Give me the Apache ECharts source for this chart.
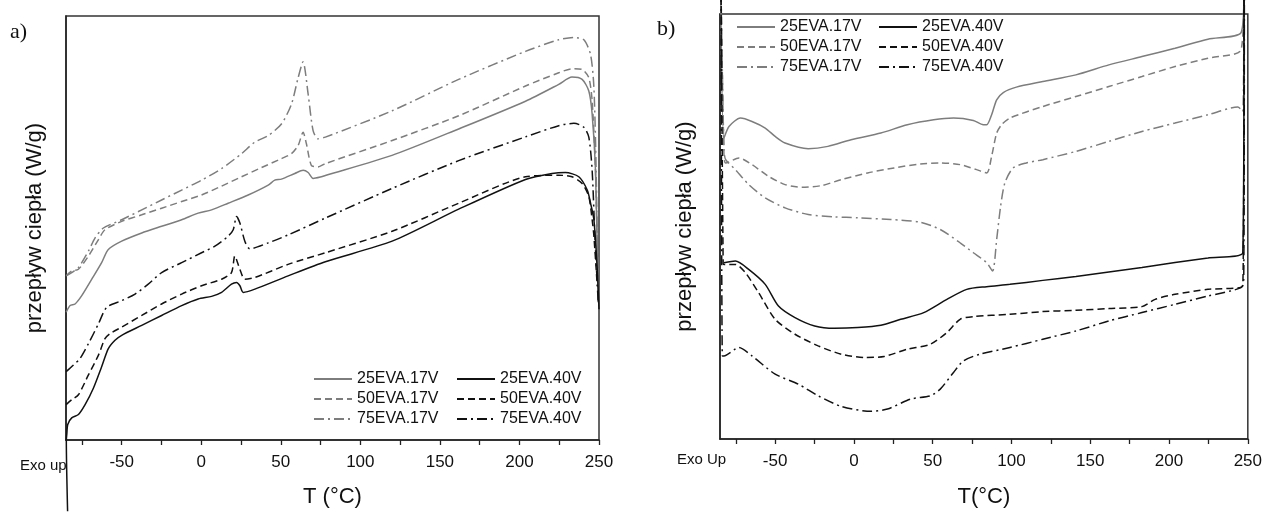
<!DOCTYPE html>
<html>
<head>
<meta charset="utf-8">
<script src="https://cdn.jsdelivr.net/npm/echarts@6/dist/echarts.min.js"></script>
<style>html,body{margin:0;padding:0;background:#fff}#c{width:1265px;height:513px}</style>
</head>
<body>
<div id="c"></div>
<script>
// ---------- data ----------
const names = ['25EVA.17V','50EVA.17V','75EVA.17V','25EVA.40V','50EVA.40V','75EVA.40V'];
const xMajorTicks = [-50,0,50,100,150,200,250];
const xMinorTicks = [-75,-50,-25,0,25,50,75,100,125,150,175,200,225,250];

// panel a) [T (°C), heat flow (arb.)]
const a_25_17V = [[-84.9,129],[-82.4,135.7],[-79.3,137.3],[-75.1,145.7],[-68.8,162.3],[-62.6,179],[-58.4,192.3],[-50,200.7],[-37.4,209],[-24.9,215.7],[-12.3,222.3],[-1.9,229],[6.5,232.3],[16.9,239],[29.5,247.3],[42.1,257.3],[46.2,262.3],[50.4,263.3],[58.8,269],[64,272.3],[67.2,270],[70.3,264],[75.5,265.7],[78,267],[119.9,287.3],[161.8,314],[203.8,342],[224.7,359],[233,366.3],[239.4,364],[243.6,352.3],[245.7,329],[247.8,272],[249.5,139]];
const a_50_17V = [[-84.9,165.7],[-81.4,170.7],[-77.2,172.3],[-70.9,185.7],[-64.6,202.3],[-60.5,212.3],[-50,220.7],[-37.4,227.3],[-24.9,234],[-12.3,240.7],[0.2,247.3],[12.8,256.3],[25.3,265.7],[37.9,275],[50.4,284],[56.7,289],[60.9,297.3],[64,310.7],[66.1,299],[69.2,277.3],[73.4,275.7],[78,279],[120,302.3],[161.8,327.3],[203.8,357.3],[224.7,370.7],[233,374.7],[239.4,374],[243.6,365.7],[245.7,342],[247.8,272],[249.5,145.7]];
const a_75_17V = [[-84.9,165.7],[-81.4,169],[-77.2,174],[-70.9,190.7],[-66.7,204],[-61.5,214],[-50,222.3],[-37.4,232.3],[-24.9,242.3],[-12.3,252.3],[0.2,262.3],[12.8,274],[25.3,289],[33.7,300.7],[42.1,307.3],[50.4,319],[56.7,339],[60.9,365.7],[64,381.7],[67.2,349],[70.3,312.3],[73.4,304],[78,305.7],[120,332.3],[161.8,364],[203.8,392.3],[224.7,404],[234.2,406.3],[240.5,404],[244.7,389],[246.8,355.7],[248.2,272],[249.5,139]];
const a_25_40V = [[-84,-72],[-84.8,0],[-84.5,5.7],[-83.9,15.7],[-81.4,22.3],[-77.2,25.7],[-73,35.7],[-67.8,52.3],[-62.6,74],[-58.4,92.3],[-54.2,100.7],[-50,105.7],[-37.4,115.7],[-24.9,125.7],[-12.3,135.7],[-1.9,142.3],[6.5,145],[12.8,149],[19,157.3],[22.2,159],[24.3,155.7],[26.4,149],[33.7,152.3],[54.6,165.7],[78,180],[120,200.7],[161.8,233],[203.8,263],[220.5,269],[228.9,270],[237.3,265.7],[242.6,252.3],[244.7,239],[246.8,222.3],[248.9,172.3],[250,132]];
const a_50_40V = [[-84.9,35.7],[-81.4,40.7],[-77.2,45.7],[-70.9,65.7],[-64.6,85.7],[-60.5,102.3],[-57.3,107.3],[-50,114],[-37.4,125.7],[-24.9,137.3],[-12.3,147.3],[0.2,155.7],[12.8,162.3],[19,169],[21.1,185.7],[24.3,172.3],[27.4,162.3],[33.7,164],[54.6,177.3],[78,189],[120,210.7],[161.8,239],[203.8,265.7],[224.7,267.3],[233,265.7],[239.4,259],[243.6,245.7],[245.7,222.3],[246.8,205.7],[248.9,155.7]];
const a_75_40V = [[-84.9,69],[-80.3,75.7],[-76.2,82.3],[-70.9,97.3],[-64.6,117.3],[-59.4,134],[-50,140.7],[-41.6,147.3],[-33.3,157.3],[-24.9,169],[-12.3,179],[0.2,189],[8.6,195.7],[16.9,205.7],[20.1,212.3],[22.2,225.7],[24.3,219],[27.4,200.7],[30.5,193],[42.1,199],[54.6,207],[78,224],[120,254],[161.8,282],[203.8,306],[224.7,317.3],[234.2,319.7],[240.5,315.7],[243.6,305.7],[245.7,272],[247.4,205.7],[249.5,139]];

// panel b)
const b_25_17V = [[-84.5,445],[-82.5,301.7],[-79.3,313.3],[-72,321.7],[-64.7,318.3],[-56.3,311.7],[-50,303.3],[-43.7,296.7],[-29,291],[-16.5,293.3],[-1.8,300],[17.1,306.7],[33.9,315],[50.6,320],[63.2,321.7],[75.8,319.3],[82.1,315],[84.3,315],[87.4,325],[90.6,340],[94.8,347.3],[103.1,352.7],[119.9,358.3],[140.9,365],[161.8,375],[182.8,383.3],[203.8,391.7],[224.7,400.7],[245.7,407.3],[247.5,445]];
const b_50_17V = [[-84.3,445],[-82.5,285],[-81.4,276.7],[-73,281.7],[-64.7,275],[-54.2,263.3],[-43.7,255],[-33.2,252.3],[-20.6,254],[-8,260],[8.7,266.7],[25.5,271.7],[42.2,275.7],[54.8,276.7],[67.4,275],[77.9,270],[84.3,266.7],[87.4,283.3],[90.6,306.7],[93.7,315],[99,321.7],[119.9,333.3],[140.9,343.3],[161.8,353.3],[182.8,363.3],[203.8,373.3],[224.7,381.7],[245.7,390],[247.5,445]];
const b_75_17V = [[-84.3,445],[-82.5,290],[-81.4,280],[-75.2,270],[-66.8,255],[-56.3,241.7],[-43.7,231.7],[-29,225],[-12.3,222.7],[2.4,221.7],[23.4,220],[42.2,217.3],[54.8,210],[67.4,196.7],[75.8,186.7],[84.3,176.7],[88,168.3],[90.6,200],[93.1,233.3],[95.8,256.7],[101,271.7],[109.4,276.7],[119.9,280],[140.9,288.3],[161.8,298.3],[182.8,308.3],[203.8,316.7],[224.7,325],[243.6,332.7],[246.8,328.3],[247.5,445]];
const b_25_40V = [[-82.5,176.7],[-75.2,178.3],[-66.8,170],[-56.3,155],[-47.9,133.3],[-37.4,121.7],[-24.9,113.3],[-12.3,111],[2.4,111.7],[17.1,114],[29.7,120],[44.3,126.7],[59,140],[71.6,150],[84.2,152.7],[99,155],[119.9,159],[140.9,163],[161.8,167.5],[182.8,172],[203.8,177],[224.7,181.5],[246.8,186.7],[247.6,445]];
const b_50_40V = [[-84.3,445],[-83,176],[-82.5,175],[-75.2,175],[-68.9,166.7],[-60.5,146.7],[-50,120],[-37.4,105],[-22.7,93.3],[-8,85],[6.6,81.7],[19.2,82.7],[33.9,90],[48.5,95],[59,106.7],[67.4,120],[75.8,122.7],[99,125],[119.9,127.7],[140.9,129],[161.8,130.7],[182.8,132.7],[191.2,140],[203.8,145],[224.7,150],[246.8,153.3],[247.6,445]];
const b_75_40V = [[-84.3,445],[-83.5,83.3],[-82.5,83.3],[-73,91.7],[-64.7,83.3],[-50,65],[-35.3,55],[-22.7,43.3],[-8,32.7],[10.8,27.7],[21.3,30],[36,40],[48.5,43.3],[54.8,50],[63.2,66.7],[69.5,78.3],[80,85],[99,91.7],[119.9,100],[140.9,108.3],[161.8,118.3],[182.8,126.7],[203.8,135],[224.7,143.3],[245.7,151.7],[247.4,160],[247.8,445]];

// ---------- styles ----------
const GRAY = '#7d7d7d', BLACK = '#111';
const DASH = [7,4], DASHDOT = [10,4,2,4];
const styleOf = {
  '25EVA.17V': {color: GRAY, type: 'solid'},
  '50EVA.17V': {color: GRAY, type: DASH},
  '75EVA.17V': {color: GRAY, type: DASHDOT},
  '25EVA.40V': {color: BLACK, type: 'solid'},
  '50EVA.40V': {color: BLACK, type: DASH},
  '75EVA.40V': {color: BLACK, type: DASHDOT}
};
const FONT = 'Liberation Sans, Arial, sans-serif';

function mk(name, data, idx) {
  const s = styleOf[name];
  return {
    name, type: 'line', data, xAxisIndex: idx, yAxisIndex: idx,
    symbol: 'none', showSymbol: false, clip: false, smooth: 0.25,
    lineStyle: {color: s.color, type: s.type, width: 1.5},
    itemStyle: {color: s.color},
    animation: false
  };
}

function xAx(idx, name, gap, margin) {
  return {
    type: 'value', gridIndex: idx, min: -85, max: 250,
    name, nameLocation: 'middle', nameGap: gap,
    nameTextStyle: {fontFamily: FONT, fontSize: 22, color: '#111'},
    axisLine: {show: true, onZero: false, lineStyle: {color: '#222', width: 1.5}},
    axisTick: {show: true, inside: false, length: 5, customValues: xMinorTicks, lineStyle: {color: '#222', width: 1.3}},
    axisLabel: {show: true, customValues: xMajorTicks, margin, fontFamily: FONT, fontSize: 17, color: '#111'},
    splitLine: {show: false}
  };
}
function yAx(idx, max, gap) {
  return {
    type: 'value', gridIndex: idx, min: 0, max,
    name: 'przepływ ciepła (W/g)', nameLocation: 'middle', nameGap: gap, nameRotate: 90,
    nameTextStyle: {fontFamily: FONT, fontSize: 22, color: '#111'},
    axisLine: {show: true, onZero: false, lineStyle: {color: '#222', width: 1.5}},
    axisTick: {show: false}, axisLabel: {show: false}, splitLine: {show: false}
  };
}
function leg(left, top, data) {
  return {
    left, top, orient: 'vertical', data, padding: 0,
    itemWidth: 38, itemHeight: 14, itemGap: 4,
    selectedMode: false,
    itemStyle: {opacity: 0, borderWidth: 0},
    textStyle: {fontFamily: FONT, fontSize: 16, color: '#111', lineHeight: 16}
  };
}

const chart = echarts.init(document.getElementById('c'), null, {renderer: 'canvas'});
chart.setOption({
  animation: false,
  backgroundColor: '#fff',
  grid: [
    {left: 66, right: 666, top: 16, bottom: 69, show: true, borderColor: '#333', borderWidth: 1.5, backgroundColor: 'transparent'},
    {left: 720, right: 15, top: 14, bottom: 73, show: true, borderColor: '#333', borderWidth: 1.5, backgroundColor: 'transparent'}
  ],
  xAxis: [xAx(0, 'T (°C)', 46, 14), xAx(1, 'T(°C)', 47, 14)],
  yAxis: [yAx(0, 428, 20), yAx(1, 426, 24)],
  legend: [
    leg(313, 371, names.slice(0,3)),
    leg(456, 371, names.slice(3,6)),
    leg(736, 19, names.slice(0,3)),
    leg(878, 19, names.slice(3,6))
  ],
  graphic: [
    {type: 'text', left: 10, top: 21, style: {text: 'a)', font: '22px "Liberation Serif", serif', fill: '#111'}},
    {type: 'text', left: 657, top: 18, style: {text: 'b)', font: '22px "Liberation Serif", serif', fill: '#111'}},
    {type: 'text', left: 20, top: 458, style: {text: 'Exo up', font: '15px "Liberation Sans", Arial, sans-serif', fill: '#111'}},
    {type: 'text', left: 677, top: 452, style: {text: 'Exo Up', font: '15px "Liberation Sans", Arial, sans-serif', fill: '#111'}}
  ],
  series: [
    mk('25EVA.17V', a_25_17V, 0), mk('50EVA.17V', a_50_17V, 0), mk('75EVA.17V', a_75_17V, 0),
    mk('25EVA.40V', a_25_40V, 0), mk('50EVA.40V', a_50_40V, 0), mk('75EVA.40V', a_75_40V, 0),
    mk('25EVA.17V', b_25_17V, 1), mk('50EVA.17V', b_50_17V, 1), mk('75EVA.17V', b_75_17V, 1),
    mk('25EVA.40V', b_25_40V, 1), mk('50EVA.40V', b_50_40V, 1), mk('75EVA.40V', b_75_40V, 1)
  ]
});
</script>
</body>
</html>
